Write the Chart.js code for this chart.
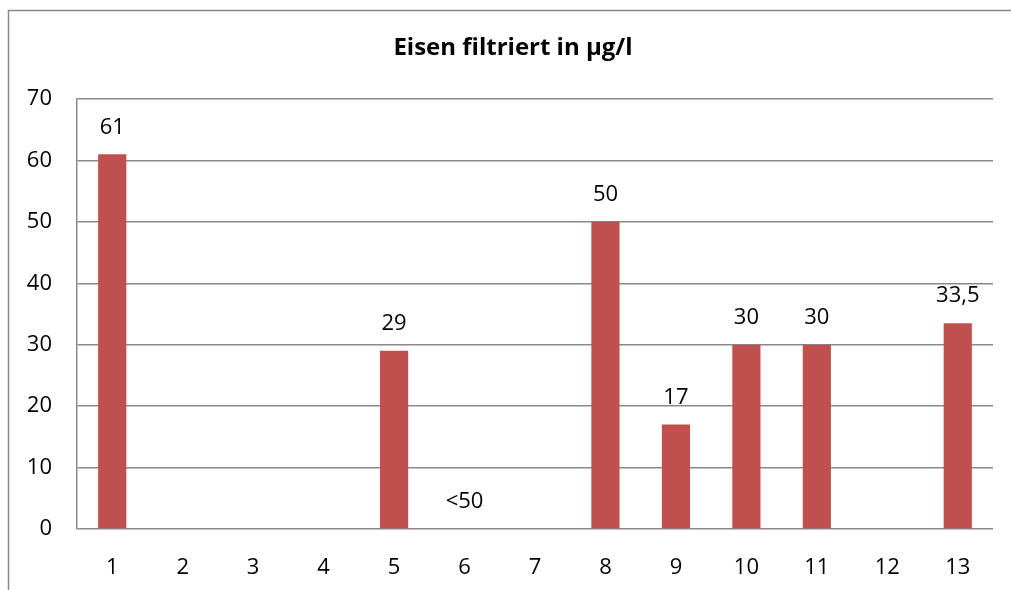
<!DOCTYPE html>
<html>
<head>
<meta charset="utf-8">
<script src="https://cdn.jsdelivr.net/npm/chart.js@4"></script>
<style>
  html, body { margin: 0; padding: 0; background: #fff; }
  #wrap { width: 1011px; height: 590px; }
</style>
</head>
<body>
<div id="wrap"><canvas id="chart"></canvas></div>
<script>
const categories = ["1", "2", "3", "4", "5", "6", "7", "8", "9", "10", "11", "12", "13"];
const values = [61, null, null, null, 29, 0, null, 50, 17, 30, 30, null, 33.5];
const valueLabels = ["61", "", "", "", "29", "<50", "", "50", "17", "30", "30", "", "33,5"];
const chartTitle = "Eisen filtriert in µg/l";

const FONT = "'Open Sans', Lato, sans-serif";
const GRID = "#898989";

// outer frame, title and the numbers above the bars
const decor = {
  id: "decor",
  beforeDraw(chart) {
    const ctx = chart.ctx;
    ctx.save();
    ctx.strokeStyle = GRID;
    ctx.lineWidth = 1.5;
    ctx.beginPath();
    ctx.moveTo(8.5, 590);
    ctx.lineTo(8.5, 10.5);
    ctx.lineTo(1011, 10.5);
    ctx.stroke();
    ctx.restore();
  },
  afterDatasetsDraw(chart) {
    const ctx = chart.ctx;
    ctx.save();
    ctx.fillStyle = "#000";
    ctx.font = "bold 24px " + FONT;
    ctx.textAlign = "center";
    ctx.textBaseline = "middle";
    ctx.fillText(chartTitle, 513, 48);
    ctx.font = "22px " + FONT;
    const meta = chart.getDatasetMeta(0);
    meta.data.forEach((bar, i) => {
      if (!valueLabels[i]) return;
      ctx.fillText(valueLabels[i], bar.x, bar.y - 27);
    });
    ctx.restore();
  }
};

new Chart(document.getElementById("chart"), {
  type: "bar",
  data: {
    labels: categories,
    datasets: [
      {
        data: values,
        backgroundColor: "#C0504D",
        barPercentage: 0.4,
        categoryPercentage: 1.0,
      },
    ],
  },
  options: {
    responsive: true,
    maintainAspectRatio: false,
    animation: false,
    layout: { padding: { left: 0, top: 99, right: 18, bottom: 0 } },
    scales: {
      x: {
        grid: { display: false },
        border: { display: false },
        ticks: {
          color: "#000",
          padding: 18,
          font: { family: FONT, size: 22 },
        },
        afterFit(scale) { scale.height = 61; },
      },
      y: {
        min: 0,
        max: 70,
        ticks: {
          stepSize: 10,
          color: "#000",
          padding: 25,
          font: { family: FONT, size: 22 },
        },
        grid: { color: GRID, lineWidth: 1.5, drawTicks: false },
        border: { display: true, color: GRID, width: 1.5 },
        afterFit(scale) { scale.width = 77; },
      },
    },
    plugins: {
      legend: { display: false },
      tooltip: { enabled: false },
    },
  },
  plugins: [decor],
});
</script>
</body>
</html>
